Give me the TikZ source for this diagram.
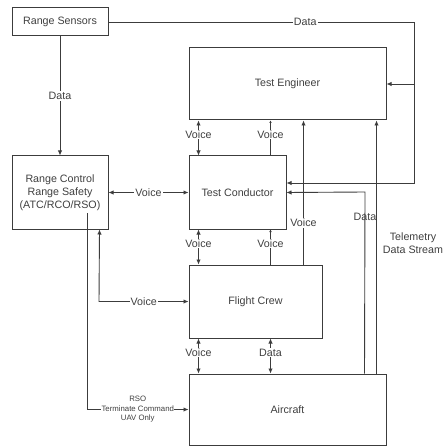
\documentclass[tikz,border=0pt]{standalone}
\usepackage{fontspec}
\setmainfont{Liberation Sans}
\usetikzlibrary{arrows.meta}
\definecolor{ln}{HTML}{3C3C3C}
\definecolor{tx}{HTML}{404040}
\begin{document}
\begin{tikzpicture}[x=1pt,y=-1pt,
  font=\fontsize{10.7}{13}\selectfont,
  box/.style={draw=ln,line width=1pt,inner sep=0pt,text=tx,align=center},
  conn/.style={draw=ln,line width=0.9pt},
  arr/.style={conn,-{Latex[length=5pt,width=4.5pt]}},
  barr/.style={conn,{Latex[length=5pt,width=4.5pt]}-{Latex[length=5pt,width=4.5pt]}},
  tiny/.style={conn,-{Latex[length=2.5pt,width=2.5pt]}},
  lbl/.style={fill=white,text=tx,inner sep=1pt},
  nlbl/.style={text=tx,inner sep=0pt},
  small/.style={font=\fontsize{7.8}{9.5}\selectfont,align=center}]
\useasboundingbox (0,0) rectangle (443,446);
\fill[white] (0,0) rectangle (443,446);
% boxes
\node[box,minimum width=96pt,minimum height=28pt] (rs) at (60,22) {Range Sensors};
\node[box,minimum width=197pt,minimum height=72pt] (te) at (287.5,84) {Test Engineer};
\node[box,minimum width=96pt,minimum height=73pt] (rc) at (60,192.5) {Range Control\\Range Safety\\(ATC/RCO/RSO)};
\node[box,minimum width=97pt,minimum height=73pt] (tc) at (237.5,192.5) {Test Conductor};
\node[box,minimum width=133pt,minimum height=73pt] (fc) at (255.5,301.5) {Flight Crew};
\node[box,minimum width=197pt,minimum height=71pt] (ac) at (287.5,409.5) {Aircraft};
% coordinates
\coordinate (c1) at (414,22);
\coordinate (c2) at (414,84);
\coordinate (c3) at (414,183);
\coordinate (c4) at (365,192);
\coordinate (c5) at (99,301.5);
\coordinate (c6) at (87,213);
\coordinate (c7) at (87,409.5);
% Range sensors data
\draw[arr] (rs.east) -- node[lbl,pos=0.644]{Data} (c1) -- (c2) -- (te.east);
\draw[arr] (c2) -- (c3) -- ([yshift=9.5pt]tc.east);
\draw[arr] (rs.south) -- node[lbl]{Data} (rc.north);
% RC <-> TC
\draw[barr] (rc.east) -- node[lbl]{Voice} (tc.west);
% TE <-> TC
\draw[barr] ([xshift=10pt]te.south west) -- node[lbl,pos=0.4]{Voice} ([xshift=10pt]tc.north west);
\draw[tiny] ([xshift=82pt]tc.north west) -- node[lbl,pos=0.6]{Voice} ([xshift=82pt]te.south west);
% TC <-> FC
\draw[barr] ([xshift=10pt]tc.south west) -- node[lbl,pos=0.4]{Voice} ([xshift=10pt]fc.north west);
\draw[tiny] ([xshift=82pt]fc.north west) -- node[lbl,pos=0.6]{Voice} ([xshift=82pt]tc.south west);
% FC <-> AC
\draw[barr] ([xshift=10pt]fc.south west) -- node[lbl,pos=0.4]{Voice} ([xshift=10pt]ac.north west);
\draw[barr] ([xshift=82pt]fc.south west) -- node[lbl,pos=0.4]{Data} ([xshift=82pt]ac.north west);
% FC -> TE voice
\draw[arr] ([xshift=115pt]fc.north west) -- node[lbl,pos=0.29]{Voice} ([xshift=115pt]te.south west);
% AC -> TC data
\draw[arr] ([xshift=176pt]ac.north west) -- node[nlbl,pos=0.863]{Data} (c4) -- (tc.east);
% Telemetry
\draw[arr] ([xshift=188pt]ac.north west) -- ([xshift=188pt]te.south west);
\node[nlbl,align=center] (tl) at (413,243) {Telemetry\\Data Stream};
% RC <-> FC voice
\draw[barr] ([xshift=-9pt]rc.south east) -- (c5) -- node[lbl]{Voice} (fc.west);
% RSO terminate
\draw[arr] (c6) -- (c7) -- node[lbl,small,inner sep=0.5pt]{RSO\\Terminate Command\\UAV Only} (ac.west);
\end{tikzpicture}
\end{document}
